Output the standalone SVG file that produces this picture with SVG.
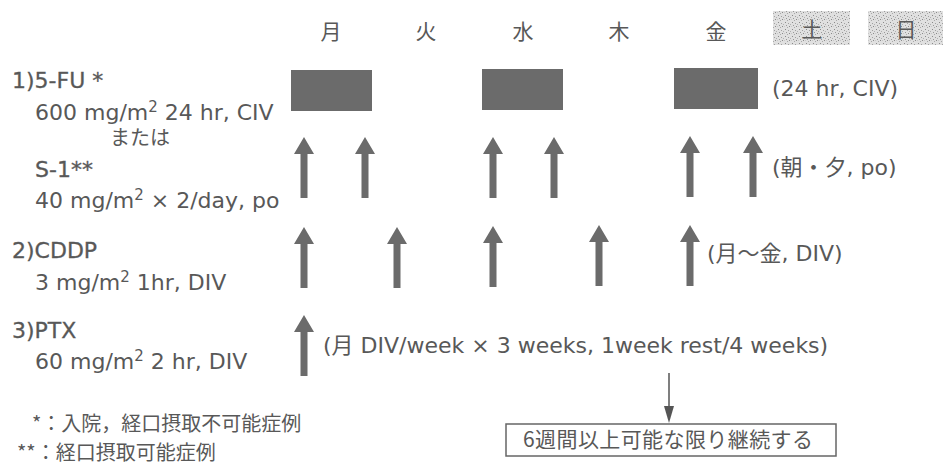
<svg xmlns="http://www.w3.org/2000/svg" width="946" height="465" viewBox="0 0 946 465">
<defs>
<style>
.t{font-family:"DejaVu Sans","Noto Sans CJK JP",sans-serif;font-size:22px;fill:#585858}
.b{stroke:#585858;stroke-width:0.3}
.j{font-family:"Noto Sans CJK JP",sans-serif;font-size:20px;fill:#585858}
.h{font-family:"Noto Sans CJK JP",sans-serif;font-size:21px;fill:#585858;text-anchor:middle}
.sup{font-size:15px}
.bar{fill:#6b6b6b}
.arr{fill:#6b6b6b}
</style>
<path id="up" d="M0 0 L10 17 L3.5 17 L3.5 61 L-3.5 61 L-3.5 17 L-10 17 Z"/>
<pattern id="speck" width="7" height="7" patternUnits="userSpaceOnUse">
<rect width="7" height="7" fill="#e0e0e0"/>
<rect x="1" y="1" width="1" height="1" fill="#8a8a8a"/>
<rect x="4" y="2" width="1" height="1" fill="#a0a0a0"/>
<rect x="2" y="4" width="1" height="1" fill="#999"/>
<rect x="5" y="5" width="1" height="1" fill="#8a8a8a"/>
<rect x="6" y="3" width="1" height="1" fill="#b0b0b0"/>
<rect x="3" y="6" width="1" height="1" fill="#aaa"/>
<rect x="0" y="5" width="1" height="1" fill="#c8c8c8"/>
</pattern>
</defs>
<rect width="946" height="465" fill="#fff"/>
<g id="header">
<text class="h" x="331" y="39">月</text>
<text class="h" x="426" y="39">火</text>
<text class="h" x="523" y="39">水</text>
<text class="h" x="619" y="39">木</text>
<text class="h" x="716" y="39">金</text>
<g id="sat"><rect x="773" y="11" width="77" height="34" fill="url(#speck)"/><text class="h" x="812" y="37" style="fill:#5a5a5a">土</text></g>
<g id="sun"><rect x="868" y="11" width="75" height="34" fill="url(#speck)"/><text class="h" x="906" y="37" style="fill:#5a5a5a">日</text></g>
</g>
<g id="drug-5fu">
<text class="t b" x="12" y="88">1)5-FU *</text>
<text class="t" x="35" y="120">600 mg/m<tspan class="sup" dy="-8">2</tspan><tspan dy="8"> 24 hr, CIV</tspan></text>
<text class="j" x="110" y="145">または</text>
<rect class="bar" x="291" y="70" width="81" height="41"/>
<rect class="bar" x="482" y="69" width="81" height="41"/>
<rect class="bar" x="674" y="68" width="84" height="41"/>
<text class="t" x="772" y="96">(24 hr, CIV)</text>
</g>
<g id="drug-s1">
<text class="t b" x="35" y="177">S-1**</text>
<text class="t" x="35" y="208">40 mg/m<tspan class="sup" dy="-8">2</tspan><tspan dy="8"> × 2/day, po</tspan></text>
<g class="arr">
<use href="#up" x="304" y="137"/>
<use href="#up" x="365" y="137"/>
<use href="#up" x="493" y="137"/>
<use href="#up" x="554" y="137"/>
<use href="#up" x="690" y="136"/>
<use href="#up" x="753" y="136"/>
</g>
<text class="t" x="772" y="175">(朝・夕, po)</text>
</g>
<g id="drug-cddp">
<text class="t b" x="12" y="258">2)CDDP</text>
<text class="t" x="35" y="290">3 mg/m<tspan class="sup" dy="-8">2</tspan><tspan dy="8"> 1hr, DIV</tspan></text>
<g class="arr">
<use href="#up" x="304" y="227"/>
<use href="#up" x="397" y="227"/>
<use href="#up" x="493" y="226"/>
<use href="#up" x="599" y="225"/>
<use href="#up" x="690" y="225"/>
</g>
<text class="t" x="707" y="261">(月～金, DIV)</text>
</g>
<g id="drug-ptx">
<text class="t b" x="12" y="338">3)PTX</text>
<text class="t" x="35" y="369">60 mg/m<tspan class="sup" dy="-8">2</tspan><tspan dy="8"> 2 hr, DIV</tspan></text>
<use class="arr" href="#up" x="304" y="315"/>
<text class="t" x="323" y="353">(月 DIV/week × 3 weeks, 1week rest/4 weeks)</text>
</g>
<g id="notes">
<text class="j" x="32" y="431">*：入院，経口摂取不可能症例</text>
<text class="j" x="17" y="460">**：経口摂取可能症例</text>
</g>
<g id="continue">
<rect x="506" y="424" width="330" height="32" fill="#fff" stroke="#666" stroke-width="1.5"/>
<text class="j" x="523" y="447" textLength="290" lengthAdjust="spacing" style="font-size:21px">6週間以上可能な限り継続する</text>
</g>
<g id="connectors">
<line x1="669" y1="373" x2="669" y2="408" stroke="#555" stroke-width="1.5"/>
<path d="M664 406 L674 406 L669 423 Z" fill="#555"/>
</g>
</svg>
